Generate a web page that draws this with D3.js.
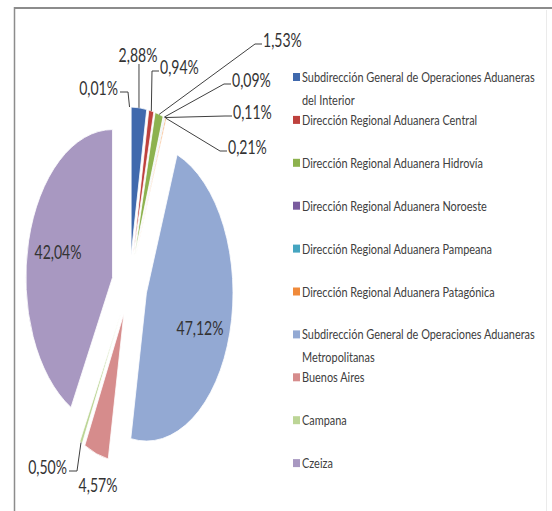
<!DOCTYPE html>
<html>
<head>
<meta charset="utf-8">
<script src="https://cdn.jsdelivr.net/npm/d3@7"></script>
<style>
  body { margin: 0; background: #fff; }
  svg { display: block; font-family: Lato, "Open Sans", sans-serif; }
</style>
</head>
<body>
<div id="chart"></div>
<script>
// slices, clockwise from 12 o'clock (first one is an unnamed 0,01% sliver)
var sliceNames = [
  "",
  "Subdirección General de Operaciones Aduaneras del Interior",
  "Dirección Regional Aduanera Central",
  "Dirección Regional Aduanera Hidrovía",
  "Dirección Regional Aduanera Noroeste",
  "Dirección Regional Aduanera Pampeana",
  "Dirección Regional Aduanera Patagónica",
  "Subdirección General de Operaciones Aduaneras Metropolitanas",
  "Buenos Aires",
  "Campana",
  "Czeiza"
];
var shares = [0.01, 2.88, 0.94, 1.53, 0.09, 0.11, 0.21, 47.12, 4.57, 0.50, 42.04];
var sliceColors = ["#4069ad", "#4069ad", "#be413d", "#8db24e", "#7a5c9e", "#45a5c0",
                   "#f08a3a", "#93a9d3", "#d68c8c", "#bcd596", "#a898c1"];

// where each data label sits (layout only) and how its leader line attaches
var labelLayout = [
  { x: 118, y: 88,  anchor: "end",    lead: "right" },
  { x: 138, y: 55,  anchor: "middle", lead: "below" },
  { x: 160, y: 67,  anchor: "start",  lead: "left" },
  { x: 263, y: 40,  anchor: "start",  lead: "left" },
  { x: 232, y: 80,  anchor: "start",  lead: "left" },
  { x: 233, y: 112, anchor: "start",  lead: "left" },
  { x: 228, y: 147, anchor: "start",  lead: "left" },
  { x: 200, y: 328, anchor: "middle", lead: "none" },
  { x: 98,  y: 485, anchor: "middle", lead: "none" },
  { x: 67,  y: 467, anchor: "end",    lead: "right" },
  { x: 58,  y: 252, anchor: "middle", lead: "none" }
];

var width = 552;
var height = 511;
var labelSqueeze = 0.72;     // text is horizontally condensed in the picture
var legendSqueeze = 0.78;
var pieCx = 129.5;
var pieCy = 285;
var radius = 148;
var pieSx = 0.585;           // pie is drawn as an upright oval
var explode = 30;

var svg = d3.select("#chart").append("svg")
  .attr("width", width)
  .attr("height", height);

// chart frame
svg.append("line").attr("x1", 14).attr("x2", width).attr("y1", 8).attr("y2", 8)
  .attr("stroke", "#8c8c8c").attr("stroke-width", 2);
svg.append("line").attr("x1", 14.5).attr("x2", 14.5).attr("y1", 7).attr("y2", height)
  .attr("stroke", "#8c8c8c").attr("stroke-width", 1.5);
svg.append("line").attr("x1", 546.5).attr("x2", 546.5).attr("y1", 10).attr("y2", height)
  .attr("stroke", "#ebebeb").attr("stroke-width", 1);

function addText(parent, x, y, s, size, anchor, fill, sq) {
  return parent.append("text")
    .attr("transform", "translate(" + x + "," + y + ") scale(" + sq + ",1)")
    .attr("text-anchor", anchor)
    .attr("dominant-baseline", "central")
    .style("font-size", size + "px")
    .attr("fill", fill)
    .text(s);
}

var arcs = d3.pie().sort(null).value(function (d) { return d; })(shares);
var arc = d3.arc().innerRadius(0).outerRadius(radius);

function midAngle(a) { return (a.startAngle + a.endAngle) / 2; }

// point on the exploded outer rim of a slice, in page coordinates
function rimPoint(a) {
  var m = midAngle(a);
  return [pieCx + (radius + explode) * Math.sin(m) * pieSx,
          pieCy - (radius + explode) * Math.cos(m)];
}

var slices = svg.append("g").attr("class", "slices");
slices.selectAll("path")
  .data(arcs)
  .enter()
  .append("path")
  .attr("transform", function (a) {
    var m = midAngle(a);
    return "translate(" + pieCx + "," + pieCy + ") scale(" + pieSx + ",1) translate(" +
      (explode * Math.sin(m)) + "," + (-explode * Math.cos(m)) + ")";
  })
  .attr("d", arc)
  .attr("fill", function (a, i) { return sliceColors[i]; })
  .attr("stroke", "#fff")
  .attr("stroke-width", 0.8)
  .attr("vector-effect", "non-scaling-stroke");

// data labels + leader lines
var fmt = d3.format(".2f");
var labels = svg.append("g").attr("class", "labels");
arcs.forEach(function (a, i) {
  var lay = labelLayout[i];
  var s = fmt(shares[i]).replace(".", ",") + "%";
  addText(labels, lay.x, lay.y, s, 19.5, lay.anchor, "#333", labelSqueeze);

  if (lay.lead === "none") return;
  var p = rimPoint(a);
  var pts;
  if (lay.lead === "below") {
    pts = [p, [p[0], lay.y + 9]];
  } else if (lay.lead === "left") {
    var ax = lay.x - 1, ay = lay.y + 4;
    pts = [p, [ax - 7, ay], [ax, ay]];
  } else {
    var bx = lay.x + 2, by = lay.y + 4;
    pts = [p, [bx + 8, by], [bx, by]];
  }
  labels.append("path")
    .attr("d", d3.line()(pts))
    .attr("fill", "none")
    .attr("stroke", "#404040")
    .attr("stroke-width", 1);
});

// legend
var legendX = 293;
var legendTop = 77;
var legendStep = 42.9;
var legendMax = 240;
var legend = svg.append("g").attr("class", "legend");
var named = sliceNames.map(function (n, i) { return { name: n, i: i }; })
  .filter(function (d) { return d.name !== ""; });

named.forEach(function (d, k) {
  var y = legendTop + k * legendStep;
  legend.append("rect")
    .attr("x", legendX).attr("y", y - 4)
    .attr("width", 7).attr("height", 8)
    .attr("fill", sliceColors[d.i]);

  // simple word wrap on the condensed width
  var words = d.name.split(" ");
  var line = [];
  var lineNo = 0;
  var t = addText(legend, legendX + 9, y, "", 14, "start", "#404040", legendSqueeze);
  words.forEach(function (w) {
    line.push(w);
    t.text(line.join(" "));
    if (t.node().getComputedTextLength() * legendSqueeze > legendMax && line.length > 1) {
      line.pop();
      t.text(line.join(" "));
      lineNo++;
      line = [w];
      t = addText(legend, legendX + 9, y + lineNo * 23, w, 14, "start", "#404040", legendSqueeze);
    }
  });
});
</script>
</body>
</html>
